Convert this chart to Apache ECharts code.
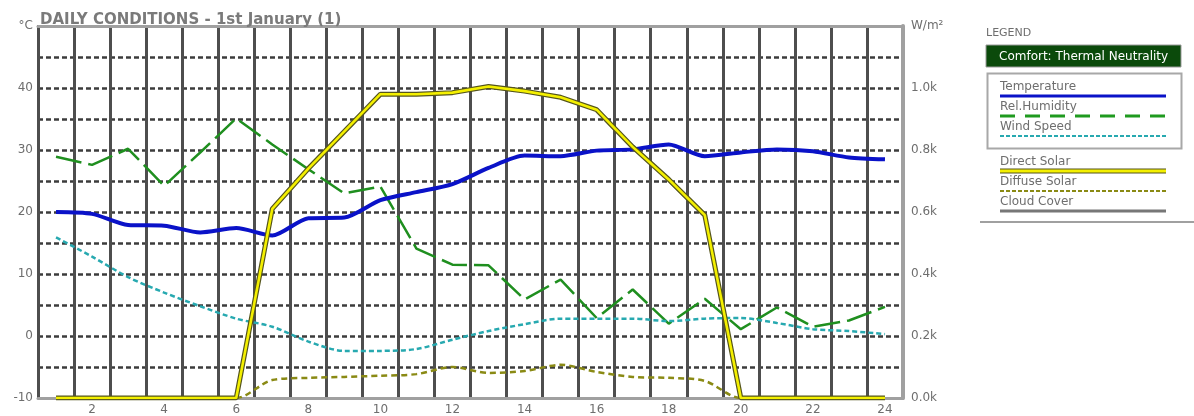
<!DOCTYPE html>
<html>
<head>
<meta charset="utf-8">
<title>Daily Conditions</title>
<script src="https://cdn.jsdelivr.net/npm/echarts@6/dist/echarts.min.js"></script>
<style>
  html, body { margin: 0; padding: 0; background: #ffffff; }
  #chart { width: 1194px; height: 416px; }
</style>
</head>
<body>
<div id="chart"></div>
<script>
// Hourly values for 1st January
const hours = ['1','2','3','4','5','6','7','8','9','10','11','12','13','14','15','16','17','18','19','20','21','22','23','24'];

// Left axis (°C scale)
const temperature = [20.0, 19.7, 17.9, 17.8, 16.7, 17.4, 16.2, 19.0, 19.1, 21.9, 23.2, 24.5, 27.1, 29.1, 29.0, 29.9, 30.1, 30.9, 29.0, 29.6, 30.1, 29.8, 28.8, 28.5];
const relHumidity = [28.9, 27.6, 30.2, 24.2, 29.6, 35.1, 30.9, 26.9, 23.0, 24.1, 14.1, 11.5, 11.4, 5.9, 9.1, 2.9, 7.5, 2.0, 6.0, 1.1, 4.6, 1.5, 2.5, 4.7];
const windSpeed = [15.9, 12.8, 9.5, 7.0, 4.8, 2.8, 1.5, -0.9, -2.4, -2.4, -2.1, -0.6, 0.8, 1.9, 2.8, 2.8, 2.8, 2.4, 2.8, 2.9, 2.1, 1.1, 0.8, 0.3];

// Right axis (kW/m²)
const directSolar = [0, 0, 0, 0, 0, 0, 0.61, 0.74, 0.86, 0.98, 0.98, 0.985, 1.005, 0.99, 0.97, 0.93, 0.81, 0.705, 0.59, 0, 0, 0, 0, 0];
const diffuseSolar = [0, 0, 0, 0, 0, 0, 0.058, 0.065, 0.068, 0.072, 0.077, 0.10, 0.081, 0.087, 0.107, 0.084, 0.068, 0.065, 0.055, 0, 0, 0, 0, 0];

const titleText = 'DAILY CONDITIONS - 1st January (1)';
const legendItems = [
  { name: 'Temperature', color: '#0a12c8', width: 3, dash: null },
  { name: 'Rel.Humidity', color: '#1f9a1f', width: 3, dash: [15, 10] },
  { name: 'Wind Speed', color: '#27a9b0', width: 2, dash: [4, 2] }
];
const solarLegendItems = [
  { name: 'Direct Solar', color: '#f4f000', width: 3, dash: null, edge: '#55551c' },
  { name: 'Diffuse Solar', color: '#8a8a14', width: 2, dash: [4, 2] },
  { name: 'Cloud Cover', color: '#777777', width: 3, dash: null }
];

const FONT = '"DejaVu Sans", Verdana, sans-serif';
const GREY = '#6e6e6e';
const FRAME = '#a0a0a0';

const chart = echarts.init(document.getElementById('chart'), null, { renderer: 'canvas' });

function legendGraphics() {
  const g = [];
  g.push({ type: 'text', left: 986, top: 28, style: { text: 'LEGEND', fill: GREY, fontSize: 11, fontFamily: FONT } });
  g.push({ type: 'rect', shape: { x: 986, y: 45, width: 195, height: 22 }, style: { fill: '#0b4a0b', stroke: '#9a9a9a', lineWidth: 1 } });
  g.push({ type: 'text', style: { x: 999, y: 56.5, text: 'Comfort: Thermal Neutrality', fill: '#ffffff', fontSize: 12, fontFamily: FONT, verticalAlign: 'middle' } });
  g.push({ type: 'rect', shape: { x: 987.5, y: 73.5, width: 194, height: 75 }, style: { fill: 'none', stroke: '#a8a8a8', lineWidth: 2 } });
  legendItems.forEach((it, i) => {
    const ty = 87 + i * 20;
    g.push({ type: 'text', style: { x: 1000, y: ty, text: it.name, fill: GREY, fontSize: 12, fontFamily: FONT, verticalAlign: 'middle' } });
    g.push({ type: 'line', shape: { x1: 1000, y1: ty + 9, x2: 1166, y2: ty + 9 }, style: { stroke: it.color, lineWidth: it.width, lineDash: it.dash } });
  });
  solarLegendItems.forEach((it, i) => {
    const ty = 162 + i * 20;
    g.push({ type: 'text', style: { x: 1000, y: ty, text: it.name, fill: GREY, fontSize: 12, fontFamily: FONT, verticalAlign: 'middle' } });
    if (it.edge) {
      g.push({ type: 'line', shape: { x1: 1000, y1: ty + 9, x2: 1166, y2: ty + 9 }, style: { stroke: it.edge, lineWidth: it.width + 2 } });
    }
    g.push({ type: 'line', shape: { x1: 1000, y1: ty + 9, x2: 1166, y2: ty + 9 }, style: { stroke: it.color, lineWidth: it.width, lineDash: it.dash } });
  });
  g.push({ type: 'line', shape: { x1: 980, y1: 222, x2: 1194, y2: 222 }, style: { stroke: FRAME, lineWidth: 2 } });
  return g;
}

// Frame edges drawn as extra axes so they sit above the dashed grid
function frameAxis(position) {
  return {
    type: 'category', data: hours, position: position, z: 3,
    axisTick: { show: false }, axisLabel: { show: false }, splitLine: { show: false },
    axisLine: { show: true, onZero: false, lineStyle: { color: FRAME, width: 3 } }
  };
}

const option = {
  animation: false,
  backgroundColor: '#ffffff',
  title: {
    text: titleText,
    left: 35,
    top: 8,
    textStyle: { fontFamily: FONT, fontSize: 15, fontWeight: 'bold', color: '#7a7a7a' }
  },
  grid: {
    left: 38, right: 291, top: 26, bottom: 18,
    show: true, borderColor: FRAME, borderWidth: 2, backgroundColor: '#ffffff'
  },
  xAxis: [
    {
      type: 'category',
      data: hours,
      position: 'bottom',
      boundaryGap: true,
      axisTick: { show: false },
      axisLine: { show: false, onZero: false },
      axisLabel: {
        interval: (index) => index % 2 === 1,
        color: GREY, fontFamily: FONT, fontSize: 12, margin: 6
      },
      splitLine: { show: true, interval: 0, lineStyle: { color: '#4e4e4e', width: 3 } }
    },
    frameAxis('bottom'),
    frameAxis('top')
  ],
  yAxis: [
    {
      type: 'value',
      min: -10, max: 50, interval: 5,
      position: 'left',
      axisTick: { show: false },
      axisLine: { show: true, lineStyle: { color: '#4e4e4e', width: 2 } },
      axisLabel: {
        color: GREY, fontFamily: FONT, fontSize: 12, margin: 5,
        formatter: (v) => v === 50 ? '°C' : (v % 10 === 0 ? String(v) : '')
      },
      splitLine: { show: true, lineStyle: { color: '#3c3c3c', width: 2.5, type: [5, 3] } }
    },
    {
      type: 'value',
      min: 0, max: 1.2, interval: 0.2,
      position: 'right',
      z: 3,
      axisTick: { show: false },
      axisLine: { show: true, lineStyle: { color: FRAME, width: 4 } },
      axisLabel: {
        color: GREY, fontFamily: FONT, fontSize: 12, margin: 8,
        formatter: (v) => v > 1.1 ? 'W/m²' : v.toFixed(1) + 'k'
      },
      splitLine: { show: false }
    }
  ],
  graphic: legendGraphics(),
  series: [
    {
      name: 'Rel.Humidity', type: 'line', yAxisIndex: 0, data: relHumidity,
      symbol: 'none', smooth: false,
      lineStyle: { color: '#1f8f1f', width: 2.5, type: [26, 7] }, z: 4
    },
    {
      name: 'Wind Speed', type: 'line', yAxisIndex: 0, data: windSpeed,
      symbol: 'none', smooth: 0.3,
      lineStyle: { color: '#27a9b0', width: 2.5, type: [5, 3] }, z: 4
    },
    {
      name: 'Diffuse Solar', type: 'line', yAxisIndex: 1, data: diffuseSolar,
      symbol: 'none', smooth: 0.3,
      lineStyle: { color: '#8a8a14', width: 2.5, type: [6, 4] }, z: 4
    },
    {
      name: 'Temperature', type: 'line', yAxisIndex: 0, data: temperature,
      symbol: 'none', smooth: 0.25,
      lineStyle: { color: '#0a12c8', width: 4 }, z: 5
    },
    {
      name: 'Direct Solar edge', type: 'line', yAxisIndex: 1, data: directSolar,
      symbol: 'none', smooth: false,
      lineStyle: { color: '#55551c', width: 5 }, z: 6
    },
    {
      name: 'Direct Solar', type: 'line', yAxisIndex: 1, data: directSolar,
      symbol: 'none', smooth: false,
      lineStyle: { color: '#f4f000', width: 2.6 }, z: 7
    }
  ]
};

chart.setOption(option);
</script>
</body>
</html>
